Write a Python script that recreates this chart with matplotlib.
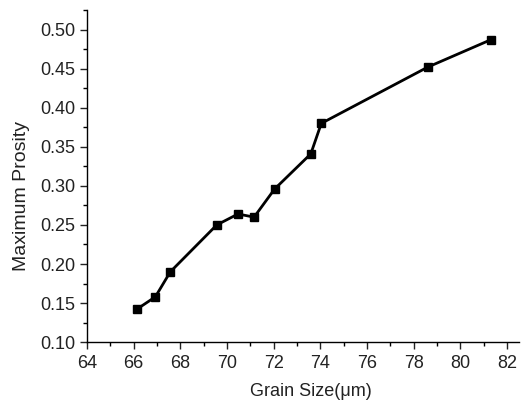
import numpy as np
import matplotlib.pyplot as plt
from matplotlib.ticker import MultipleLocator

# values
grain_size = [66.13, 66.93, 67.57, 69.56, 70.47, 71.16, 72.04, 73.59, 74.04, 78.6, 81.3]
max_porosity = [0.142, 0.158, 0.190, 0.250, 0.264, 0.260, 0.296, 0.341, 0.380, 0.452, 0.487]

plt.rcParams['font.family'] = ['Liberation Sans', 'DejaVu Sans']

fig = plt.figure(figsize=(5.24, 4.03), dpi=100)
ax = fig.add_axes([0.166, 0.151, 0.824, 0.824])

ax.plot(grain_size, max_porosity, '-s', color='black', lw=2, ms=5.5)

ax.set_xlim(64, 82.5)
ax.set_ylim(0.10, 0.525)
ax.xaxis.set_major_locator(MultipleLocator(2))
ax.xaxis.set_minor_locator(MultipleLocator(1))
ax.yaxis.set_major_locator(MultipleLocator(0.05))
ax.yaxis.set_minor_locator(MultipleLocator(0.025))
ax.yaxis.set_major_formatter(plt.FormatStrFormatter('%.2f'))

for s in ['top', 'right']:
    ax.spines[s].set_visible(False)
for s in ['left', 'bottom']:
    ax.spines[s].set_linewidth(1.0)

ax.tick_params(which='major', direction='out', length=5, width=1,
               labelsize=13, colors='#222222')
ax.tick_params(which='minor', direction='out', length=3, width=1)
ax.tick_params(axis='x', pad=4)

ax.set_xlabel('Grain Size(μm)', fontsize=13, color='#222222')
ax.set_ylabel('Maximum Prosity', fontsize=14, color='#222222')
ax.xaxis.set_label_coords(0.519, -0.123)
ax.yaxis.set_label_coords(-0.132, 0.44)

fig.savefig('out.png', dpi=100)
